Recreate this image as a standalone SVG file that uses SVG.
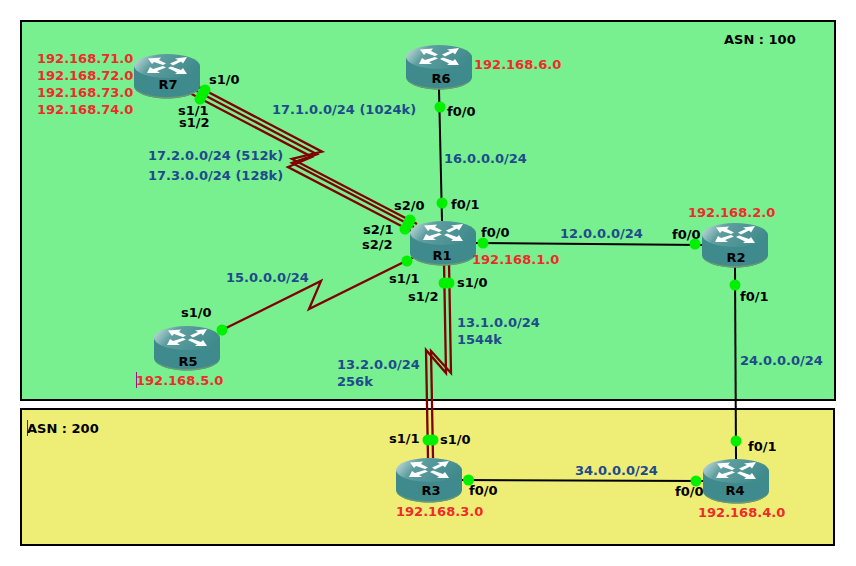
<svg xmlns="http://www.w3.org/2000/svg" width="856" height="566" viewBox="0 0 856 566">
<style>
text{font-family:"DejaVu Sans",sans-serif;font-weight:700;font-size:13px}
.k{fill:#000}.r{fill:#ee2b2b}.b{fill:#1f4a8c}
.lk{fill:none;stroke:#000;stroke-width:2}
.se{fill:none;stroke:#800000;stroke-width:2.300}
.d{fill:#00f000}
.n{text-anchor:middle}
</style>
<defs>
<linearGradient id="top" x1="0" y1="0.2" x2="1" y2="0.5"><stop offset="0" stop-color="#c4dcdc"/><stop offset="0.3" stop-color="#5f9ea0"/><stop offset="1" stop-color="#3f8a8c"/></linearGradient>
<g id="router">
<path d="M0 12V32C0 39 15 44.500 33 44.500S66 39 66 32V12Z" fill="#3f8a8c"/>
<path d="M0 33C2 39 15 44.500 33 44.500S64 39 66 33C64 38 50 43 33 43S2 38 0 33Z" fill="#6f9a70"/>
<ellipse cx="33" cy="12" rx="33" ry="12" fill="url(#top)"/>
<g fill="#fff">
<path d="M14 4.500L27 3.500L25 6L32 9.500L29 11L20 8L18 10Z"/>
<path d="M36 9.500L44 6L41 4.500L53 3L49 9.500L47 7.500L39 11.500Z"/>
<path d="M13 19L16 13L19 15L29 12L32 13.500L23 17L26 19Z"/>
<path d="M34 14L37 12.500L47 16L49 14L53 20L41 20L43 18.500Z"/>
</g>
</g>
</defs>
<rect width="856" height="566" fill="#fff"/>
<rect x="21" y="21" width="814" height="379" fill="#78f08f" stroke="#000" stroke-width="2"/>
<rect x="21" y="409" width="813" height="136" fill="#eeee77" stroke="#000" stroke-width="2"/>
<g id="connectors">
<path class="lk" d="M439 89L442 221"/>
<path class="lk" d="M476 243L702 245"/>
<path class="lk" d="M735 267L736 459"/>
<path class="lk" d="M462 480L703 481"/>
<path class="se" d="M190 82.500L322 151.700L292 159L417 224"/>
<path class="se" d="M188 86.500L317 154.200L292 163L414 227"/>
<path class="se" d="M184 90L312 157L288 167L411 231"/>
<path class="se" d="M220 331L321 281L309 309L414 257"/>
<path class="se" d="M444 262L446 373L426 350L428 458"/>
<path class="se" d="M449 262L451 373L431 351L433 458"/>
</g>
<g id="R7"><use href="#router" x="134" y="54"/><text class="k n" x="168" y="89">R7</text></g>
<g id="R6"><use href="#router" x="406" y="45"/><text class="k n" x="441" y="83">R6</text></g>
<g id="R1"><use href="#router" x="410" y="221"/><text class="k n" x="442" y="260">R1</text></g>
<g id="R2"><use href="#router" x="702" y="223"/><text class="k n" x="736" y="262">R2</text></g>
<g id="R5"><use href="#router" x="154" y="326"/><text class="k n" x="188" y="366">R5</text></g>
<g id="R3"><use href="#router" x="396" y="458"/><text class="k n" x="431" y="495">R3</text></g>
<g id="R4"><use href="#router" x="703" y="459"/><text class="k n" x="735" y="495">R4</text></g>
<g id="dots">
<circle class="d" cx="205" cy="90" r="5.500"/><circle class="d" cx="202" cy="95" r="5.500"/><circle class="d" cx="200" cy="99" r="5.500"/>
<circle class="d" cx="410" cy="220" r="5.500"/><circle class="d" cx="408" cy="224" r="5.500"/><circle class="d" cx="405" cy="229" r="5.500"/>
<circle class="d" cx="407" cy="261" r="5.500"/><circle class="d" cx="444" cy="283" r="5.500"/><circle class="d" cx="449" cy="283" r="5.500"/>
<circle class="d" cx="442" cy="203" r="5.500"/><circle class="d" cx="483" cy="243" r="5.500"/><circle class="d" cx="440" cy="107" r="5.500"/>
<circle class="d" cx="695" cy="244" r="5.500"/><circle class="d" cx="735" cy="285" r="5.500"/><circle class="d" cx="736" cy="441" r="5.500"/>
<circle class="d" cx="696" cy="481" r="5.500"/><circle class="d" cx="468.500" cy="480" r="5.500"/><circle class="d" cx="428" cy="440" r="5.500"/>
<circle class="d" cx="433" cy="440" r="5.500"/><circle class="d" cx="222" cy="330" r="5.500"/>
</g>
<path d="M136.500 372V388" stroke="#a01090" stroke-width="1"/>
<path d="M27.500 420V436" stroke="#1f3a70" stroke-width="1"/>
<g id="labels">
<text class="k" x="724" y="44">ASN : 100</text>
<text class="k" x="27" y="433">ASN : 200</text>
<text class="r" x="37" y="63">192.168.71.0</text>
<text class="r" x="37" y="80">192.168.72.0</text>
<text class="r" x="37" y="97">192.168.73.0</text>
<text class="r" x="37" y="114">192.168.74.0</text>
<text class="r" x="474" y="69">192.168.6.0</text>
<text class="r" x="688" y="217">192.168.2.0</text>
<text class="r" x="472" y="264">192.168.1.0</text>
<text class="r" x="136" y="385">192.168.5.0</text>
<text class="r" x="396" y="516">192.168.3.0</text>
<text class="r" x="698" y="517">192.168.4.0</text>
<text class="b" x="272" y="114">17.1.0.0/24 (1024k)</text>
<text class="b" x="148" y="160">17.2.0.0/24 (512k)</text>
<text class="b" x="148" y="180">17.3.0.0/24 (128k)</text>
<text class="b" x="444" y="163">16.0.0.0/24</text>
<text class="b" x="560" y="238">12.0.0.0/24</text>
<text class="b" x="226" y="282">15.0.0.0/24</text>
<text class="b" x="457" y="327">13.1.0.0/24</text>
<text class="b" x="457" y="344">1544k</text>
<text class="b" x="337" y="369">13.2.0.0/24</text>
<text class="b" x="337" y="386">256k</text>
<text class="b" x="740" y="365">24.0.0.0/24</text>
<text class="b" x="575" y="475">34.0.0.0/24</text>
<text class="k" x="209" y="84">s1/0</text>
<text class="k" x="178" y="115">s1/1</text>
<text class="k" x="179" y="127">s1/2</text>
<text class="k" x="447" y="116">f0/0</text>
<text class="k" x="451" y="209">f0/1</text>
<text class="k" x="394" y="210">s2/0</text>
<text class="k" x="363" y="234">s2/1</text>
<text class="k" x="362" y="249">s2/2</text>
<text class="k" x="481" y="237">f0/0</text>
<text class="k" x="672" y="239">f0/0</text>
<text class="k" x="740" y="301">f0/1</text>
<text class="k" x="389" y="283">s1/1</text>
<text class="k" x="457" y="287">s1/0</text>
<text class="k" x="408" y="301">s1/2</text>
<text class="k" x="181" y="317">s1/0</text>
<text class="k" x="389" y="443">s1/1</text>
<text class="k" x="440" y="444">s1/0</text>
<text class="k" x="469" y="495">f0/0</text>
<text class="k" x="748" y="451">f0/1</text>
<text class="k" x="675" y="496">f0/0</text>
</g>
</svg>
